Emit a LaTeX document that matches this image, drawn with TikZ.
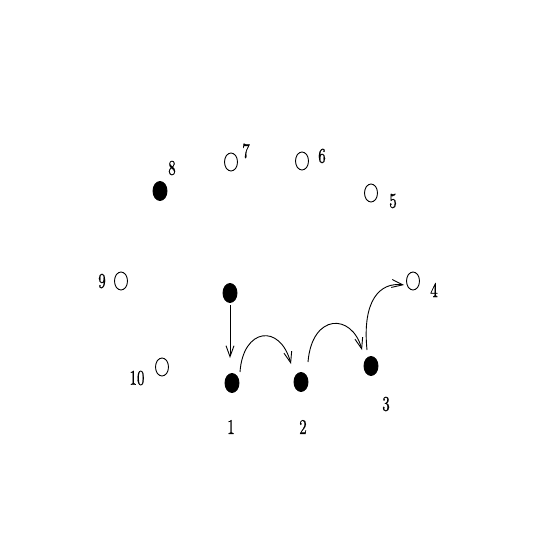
\documentclass[tikz,border=0pt]{standalone}
\usepackage{fontspec}
\newfontfamily\digfont{lmroman10-regular.otf}[FakeBold=1.0]
\usetikzlibrary{arrows.meta,shapes.geometric}
\begin{document}
\begin{tikzpicture}[x=1pt,y=-1pt,
  full/.style={draw,fill=black,ellipse,minimum width=14pt,minimum height=19pt,inner sep=0pt,line width=0.9pt},
  hollow/.style={draw,ellipse,minimum width=13pt,minimum height=18pt,inner sep=0pt,line width=0.9pt},
  lab/.style={font=\digfont\fontsize{15}{15}\selectfont,yscale=1.4,transform shape,inner sep=0pt},
  arr/.style={-{Straight Barb[length=11pt,width=8pt,line width=0.9pt]},line width=0.9pt}]
\useasboundingbox (0,0) rectangle (545,545);
\node[full] (n8) at (160,191) {};
\node[hollow] (n7) at (231,162) {};
\node[hollow] (n6) at (302,161) {};
\node[hollow] (n5) at (371,193) {};
\node[hollow] (n4) at (413,281) {};
\node[hollow] (n9) at (121,281) {};
\node[hollow] (n10) at (162,367) {};
\node[full] (n0) at (230,293) {};
\node[full] (n1) at (232,383) {};
\node[full] (n2) at (301,382) {};
\node[full] (n3) at (371,366) {};
\node[lab] (l8) at (172,168) {8};
\node[lab] (l7) at (246,151) {7};
\node[lab] (l6) at (322,156) {6};
\node[lab] (l5) at (393,201) {5};
\node[lab] (l4) at (434,290) {4};
\node[lab] (l9) at (102,281) {9};
\node[lab] (l10) at (137,378) {10};
\node[lab] (l1) at (231,427) {1};
\node[lab] (l2) at (303,427) {2};
\node[lab] (l3) at (386,404) {3};
\coordinate (a0) at (230,305);
\coordinate (a1) at (230,358);
\draw[arr] (a0) -- (a1);
\coordinate (b0) at (240,372);
\coordinate (b1) at (291,364);
\draw[arr] (b0) .. controls (243,328) and (280,323) .. (b1);
\coordinate (c0) at (308,362);
\coordinate (c1) at (362,350);
\draw[arr] (c0) .. controls (312,313) and (352,313) .. (c1);
\coordinate (d0) at (367,350);
\coordinate (d1) at (404,285);
\draw[arr] (d0) .. controls (362,300) and (380,282) .. (d1);
\end{tikzpicture}
\end{document}
